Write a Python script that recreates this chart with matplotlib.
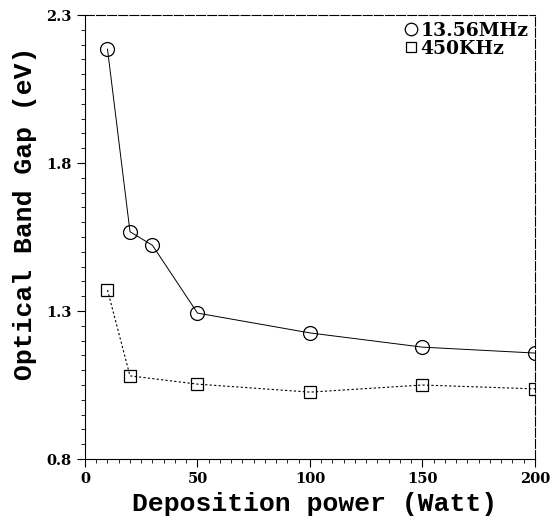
import numpy as np
import matplotlib
matplotlib.use("Agg")
import matplotlib.pyplot as plt
from matplotlib.ticker import MultipleLocator

# data
power = [10, 20, 30, 50, 100, 150, 200]
gap_13mhz = [2.185, 1.568, 1.522, 1.293, 1.226, 1.178, 1.158]
power_450 = [10, 20, 50, 100, 150, 200]
gap_450khz = [1.371, 1.081, 1.053, 1.026, 1.050, 1.037]

xticks = [0, 50, 100, 150, 200]
yticks = [0.8, 1.3, 1.8, 2.3]

fig = plt.figure(figsize=(5.57, 5.21), dpi=100)
ax = fig.add_axes([0.1526, 0.119, 0.8079, 0.852])

ax.plot(power, gap_13mhz, color="black", lw=0.7, ls="-",
        marker="o", ms=10, mfc="none", mec="black", mew=0.9,
        label="13.56MHz")
ax.plot(power_450, gap_450khz, color="black", lw=0.8, ls=(0, (2, 2)),
        marker="s", ms=8, mfc="none", mec="black", mew=0.9,
        label="450KHz")

ax.set_xlim(0, 200)
ax.set_ylim(0.8, 2.3)
ax.set_xticks(xticks)
ax.set_yticks(yticks)
ax.set_xticklabels([str(v) for v in xticks])
ax.set_yticklabels(["%.1f" % v for v in yticks])
ax.xaxis.set_minor_locator(MultipleLocator(5))
ax.yaxis.set_minor_locator(MultipleLocator(0.05))
ax.tick_params(which="major", direction="out", length=6, width=0.8,
               labelsize=10.5)
ax.tick_params(which="minor", direction="out", length=3, width=0.6)
for lab in ax.get_xticklabels() + ax.get_yticklabels():
    lab.set_family("DejaVu Serif")
    lab.set_weight("bold")

for s in ax.spines.values():
    s.set_linewidth(0.8)
ax.spines["top"].set_linestyle((0, (8, 2)))
ax.spines["right"].set_linestyle((0, (8, 2)))

ax.set_xlabel("Deposition power (Watt)", family="Liberation Mono",
              fontsize=19, weight="bold")
ax.xaxis.set_label_coords(0.511, -0.074, transform=ax.transAxes)
ax.xaxis.label.set_va("top")
ax.set_ylabel("Optical Band Gap (eV)", family="Liberation Mono",
              fontsize=19, weight="bold")
ax.yaxis.set_label_coords(-0.107, 0.554, transform=ax.transAxes)

leg = ax.legend(loc="upper right", frameon=False, handlelength=0.7,
                handletextpad=0.15, borderaxespad=0.0, borderpad=0.35,
                labelspacing=0.0,
                prop={"family": "DejaVu Serif", "weight": "bold",
                      "size": 13.5})
for h, ms in zip(leg.legend_handles, [9, 7.5]):
    h.set_linestyle("none")
    h.set_markersize(ms)

fig.savefig("out.png", dpi=100)
